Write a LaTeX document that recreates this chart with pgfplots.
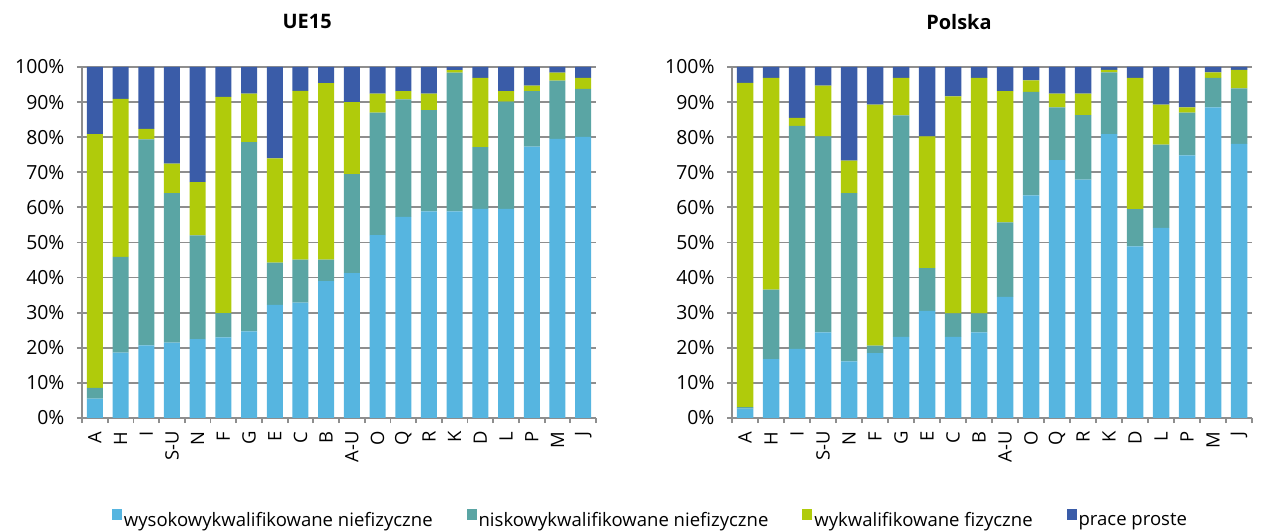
\documentclass[border=0pt]{standalone}
\usepackage{pgfplots}
\usepackage{pgfplotstable}
\pgfplotsset{compat=1.18}
\usepackage{fontspec}
\setmainfont{Open Sans}

\definecolor{cHigh}{HTML}{56B5E0}
\definecolor{cLow}{HTML}{5AA5A4}
\definecolor{cSkill}{HTML}{B0CB0B}
\definecolor{cSimple}{HTML}{3A5CA8}
\definecolor{cGrid}{HTML}{8E8E8E}

% Shares of occupation groups by sector (segments, %)
\pgfplotstableread{
cat  high low  skill simple
A    5.5  3.1  72.3  19.1
H    18.6 27.3 45.0  9.1
I    20.7 58.7 3.0   17.6
S-U  21.5 42.6 8.4   27.5
N    22.5 29.5 15.2  32.8
F    23.0 6.9  61.6  8.5
G    24.7 53.9 13.8  7.6
E    32.2 12.1 29.7  26.0
C    32.9 12.2 48.1  6.8
B    39.0 6.1  50.3  4.6
A-U  41.3 28.2 20.5  10.0
O    52.1 34.9 5.4   7.6
Q    57.3 33.5 2.3   6.9
R    58.9 28.8 4.7   7.6
K    58.9 39.5 0.7   0.9
D    59.6 17.6 19.7  3.1
L    59.6 30.5 3.0   6.9
P    77.3 15.8 1.6   5.3
M    79.5 16.6 2.3   1.6
J    80.1 13.7 3.1   3.1
}\tabUE

\pgfplotstableread{
cat  high low  skill simple
A    2.7  0.4  92.4  4.5
H    16.8 19.8 60.3  3.1
I    19.7 63.5 2.3   14.5
S-U  24.4 55.8 14.5  5.3
N    16.1 48.0 9.2   26.7
F    18.5 2.1  68.7  10.7
G    23.1 63.1 10.7  3.1
E    30.5 12.2 37.5  19.8
C    23.1 6.7  61.8  8.4
B    24.4 5.4  67.1  3.1
A-U  34.5 21.2 37.4  6.9
O    63.4 29.5 3.3   3.8
Q    73.5 15.0 3.9   7.6
R    67.9 18.4 6.1   7.6
K    80.9 17.6 0.7   0.8
D    48.9 10.6 37.4  3.1
L    54.2 23.7 11.4  10.7
P    74.8 12.2 1.5   11.5
M    88.5 8.4  1.6   1.5
J    78.1 15.8 5.3   0.8
}\tabPL

\pgfplotsset{
  sqleg/.style={legend image code/.code={\fill[##1] (0bp,0bp) rectangle (10bp,11bp);}},
  stackchart/.style={
    ybar stacked,
    scale only axis,
    width=514bp, height=351bp,
    bar width=16bp,
    xmin=-0.5, xmax=19.5, ymin=0, ymax=100,
    axis x line*=bottom, axis y line*=left,
    axis line style={draw=cGrid, line width=1.8bp},
    ymajorgrids,
    grid style={draw=cGrid, line width=1.8bp},
    tick align=outside,
    major tick length=5bp,
    tick style={draw=cGrid, line width=1.8bp},
    ytick={0,10,...,100},
    yticklabel={\pgfmathprintnumber{\tick}\%},
    /pgf/number format/assume math mode=true,
    yticklabel style={font=\fontsize{19.5}{22}\selectfont, xshift=-9bp},
    xtick={-0.5,0.5,...,19.5},
    xticklabels={},
    extra x ticks={0,1,...,19},
    extra x tick labels={A,H,I,S-U,N,F,G,E,C,B,A-U,O,Q,R,K,D,L,P,M,J},
    extra x tick style={major tick length=0pt, tick style={draw=none},
      tick label style={rotate=90, anchor=east, xshift=-10bp,
        font=\fontsize{18.5}{22}\selectfont}},
    title style={font=\bfseries\fontsize{20}{24}\selectfont, anchor=center},
    table/x expr=\coordindex,
  },
}

\begin{document}
\begin{tikzpicture}
\useasboundingbox (0,0) rectangle (1267bp,532bp);

\begin{axis}[stackchart,
  at={(82bp,114bp)}, anchor=south west,
  title={UE15}, title style={at={(0.438,1.112)}},
  legend columns=4,
  legend style={at={(1.106,-0.29)}, anchor=center, draw=none, fill=none,
    font=\fontsize{18.6}{22}\selectfont,
    /tikz/every even column/.append style={column sep=32bp}},
]
\addplot[fill=cHigh, draw=none, sqleg] table[y=high] {\tabUE};
\addplot[fill=cLow, draw=none, sqleg] table[y=low] {\tabUE};
\addplot[fill=cSkill, draw=none, sqleg] table[y=skill] {\tabUE};
\addplot[fill=cSimple, draw=none, sqleg] table[y=simple] {\tabUE};
\legend{wysokowykwalifikowane niefizyczne, niskowykwalifikowane niefizyczne, wykwalifikowane fizyczne, prace proste}
\end{axis}

\begin{axis}[stackchart,
  at={(732bp,114bp)}, anchor=south west,
  width=520bp,
  bar width=16.5bp,
  title={Polska}, title style={at={(0.4365,1.112)}},
]
\addplot[fill=cHigh, draw=none] table[y=high] {\tabPL};
\addplot[fill=cLow, draw=none] table[y=low] {\tabPL};
\addplot[fill=cSkill, draw=none] table[y=skill] {\tabPL};
\addplot[fill=cSimple, draw=none] table[y=simple] {\tabPL};
\end{axis}
\end{tikzpicture}
\end{document}
